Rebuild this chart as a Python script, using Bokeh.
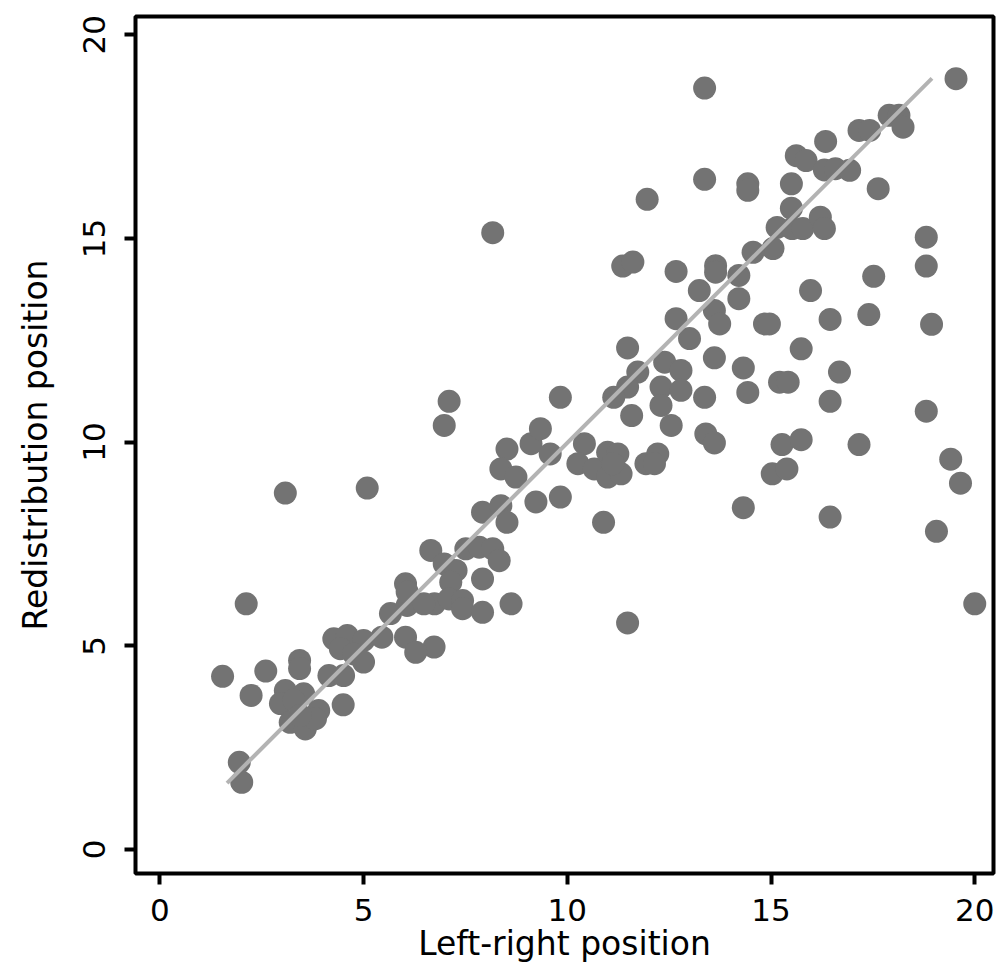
from bokeh.plotting import figure
from bokeh.models import Range1d, FixedTicker
from bokeh.embed import file_html
from bokeh.resources import INLINE

# Left-right position (x) and redistribution position (y) of each party
lr = [13.37, 13.37, 11.96, 8.17, 11.36, 11.61, 12.67, 13.24, 19.54, 17.90,
      18.14, 18.24, 17.16, 17.42, 16.34, 15.62, 15.86, 16.31, 16.58, 16.93,
      17.63, 14.43, 14.43, 15.50, 15.50, 15.15, 15.52, 15.78, 16.21, 16.31,
      15.05, 14.56, 13.64, 13.64, 14.21, 18.81, 18.81, 17.52, 15.97, 14.21,
      13.61, 13.74, 14.84, 14.96, 16.45, 17.40, 18.94, 13.61, 15.74, 14.32,
      14.43, 15.21, 15.42, 16.68, 16.45, 18.81, 13.40, 13.61, 15.27, 15.74,
      17.16, 15.03, 15.39, 19.41, 19.65, 14.32, 16.45, 19.06, 20.00, 3.08,
      5.09, 6.03, 7.10, 6.98, 9.83, 11.48, 12.67, 13.00, 11.73, 11.48,
      11.14, 12.39, 12.79, 12.30, 12.79, 12.30, 11.58, 12.55, 13.37, 8.52,
      8.37, 8.74, 9.11, 9.34, 9.58, 10.42, 10.26, 10.66, 10.99, 11.24,
      10.99, 11.32, 11.12, 11.93, 12.22, 12.14, 9.23, 9.83, 10.89, 7.92,
      8.37, 8.52, 6.65, 6.98, 7.51, 7.84, 8.17, 8.33, 7.27, 7.92,
      7.14, 6.74, 7.10, 7.43, 7.43, 7.92, 8.62, 6.73, 11.48, 2.12,
      1.54, 2.60, 2.24, 3.43, 3.43, 1.95, 2.01, 3.08, 3.53, 2.96,
      3.29, 3.20, 3.57, 3.90, 3.82, 3.45, 4.50, 4.15, 4.51, 4.27,
      4.60, 5.00, 4.43, 4.76, 5.00, 5.45, 5.66, 6.07, 6.07, 6.03,
      6.28, 6.48]
redist = [18.69, 16.45, 15.96, 15.14, 14.32, 14.42, 14.19, 13.72, 18.92, 18.02,
          18.02, 17.73, 17.65, 17.65, 17.38, 17.03, 16.91, 16.68, 16.71, 16.67,
          16.22, 16.34, 16.18, 16.34, 15.74, 15.27, 15.24, 15.24, 15.52, 15.24,
          14.75, 14.66, 14.33, 14.17, 14.09, 15.03, 14.32, 14.07, 13.72, 13.52,
          13.23, 12.90, 12.90, 12.90, 13.01, 13.13, 12.89, 12.07, 12.29, 11.82,
          11.22, 11.47, 11.47, 11.72, 11.00, 10.76, 10.20, 9.98, 9.94, 10.06,
          9.94, 9.22, 9.34, 9.58, 8.99, 8.39, 8.16, 7.81, 6.03, 8.75,
          8.87, 6.52, 11.00, 10.41, 11.10, 12.31, 13.03, 12.54, 11.72, 11.35,
          11.10, 11.96, 11.76, 11.35, 11.27, 10.90, 10.65, 10.41, 11.10, 9.83,
          9.34, 9.14, 9.96, 10.33, 9.71, 9.96, 9.47, 9.34, 9.75, 9.71,
          9.14, 9.22, 9.47, 9.47, 9.71, 9.47, 8.53, 8.65, 8.03, 8.28,
          8.44, 8.03, 7.34, 7.01, 7.38, 7.42, 7.38, 7.09, 6.85, 6.64,
          6.56, 6.03, 6.15, 6.11, 5.91, 5.82, 6.03, 4.97, 5.56, 6.03,
          4.25, 4.38, 3.78, 4.64, 4.44, 2.14, 1.65, 3.90, 3.82, 3.58,
          3.66, 3.12, 2.96, 3.41, 3.21, 3.29, 3.55, 4.27, 4.27, 5.17,
          5.25, 5.13, 4.93, 4.80, 4.60, 5.21, 5.79, 5.99, 6.32, 5.21,
          4.84, 6.03]

# Linear fit shown on the chart
fit_x = [1.65, 18.95]
fit_intercept = -0.02
fit_slope = 1.0
fit_y = [fit_intercept + fit_slope * v for v in fit_x]

ticks = [0, 5, 10, 15, 20]
x_title = "Left-right position"
y_title = "Redistribution position"

FONT = "DejaVu Sans"

p = figure(width=1000, height=972, output_backend="svg", toolbar_location=None,
           x_range=Range1d(-0.597, 20.46), y_range=Range1d(-0.59, 20.447),
           min_border_left=135, min_border_right=7, min_border_top=16,
           min_border_bottom=99,
           background_fill_color="white", border_fill_color="white")
p.grid.visible = False
p.outline_line_color = "black"
p.outline_line_width = 4

p.scatter(lr, redist, size=23, fill_color="#737373", line_color=None)
p.line(fit_x, fit_y, line_color="#b3b3b3", line_width=4)

for ax in (p.xaxis[0], p.yaxis[0]):
    ax.ticker = FixedTicker(ticks=ticks)
    ax.axis_line_color = None
    ax.major_tick_in = 0
    ax.major_tick_out = 11
    ax.major_tick_line_width = 4
    ax.major_tick_line_color = "black"
    ax.minor_tick_line_color = None
    ax.major_label_text_font = FONT
    ax.major_label_text_font_size = "31px"
    ax.major_label_text_color = "black"
    ax.axis_label_text_font = FONT
    ax.axis_label_text_font_size = "33px"
    ax.axis_label_text_font_style = "normal"
    ax.axis_label_text_color = "black"

p.xaxis.axis_label = x_title
p.yaxis.axis_label = y_title
p.xaxis.major_label_standoff = 14
p.yaxis.major_label_standoff = 19
p.xaxis.axis_label_standoff = 0
p.yaxis.axis_label_standoff = 26
p.yaxis.major_label_orientation = "vertical"

open("out.html", "w").write(file_html(p, INLINE))
